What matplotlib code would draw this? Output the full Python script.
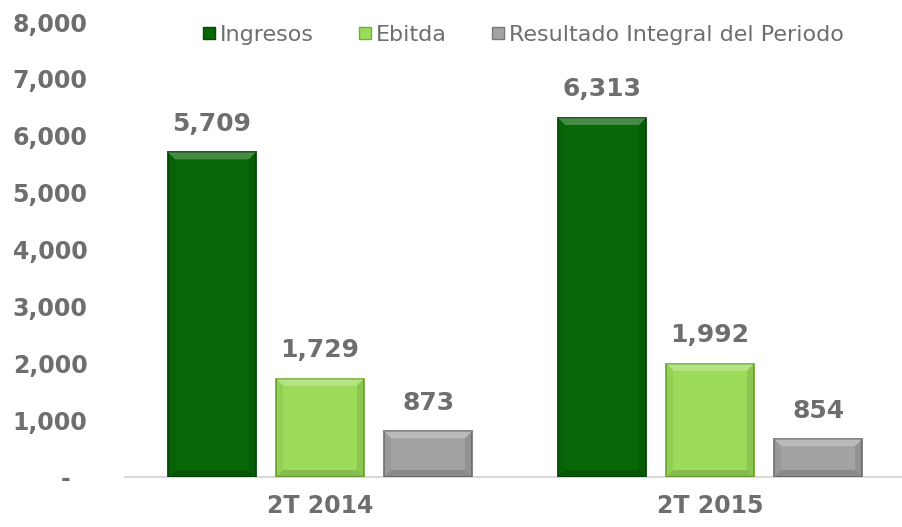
import matplotlib
matplotlib.use("Agg")
import matplotlib.pyplot as plt
import matplotlib.ticker as mticker
from matplotlib.lines import Line2D
from matplotlib.patches import Polygon
import numpy as np

# data
periods = ["2T 2014", "2T 2015"]
series = ["Ingresos", "Ebitda", "Resultado Integral del Periodo"]
ingresos = [5709, 6313]
ebitda = [1729, 1992]
# gray bars in the picture are drawn shorter than their labels
resultado = [805, 665]
resultado_labels = ["873", "854"]

colors = ["#086808", "#9cdc5a", "#a3a3a3"]
edges = ["#044a04", "#6fae33", "#777777"]
text_gray = "#6e6e6e"

fig = plt.figure(figsize=(9.02, 5.27), dpi=100)
ax = fig.add_axes([125 / 902, 50 / 527, 777 / 902, 455 / 527])
ax.set_xlim(-0.5, 1.492)
ax.set_ylim(0, 8000)

x = np.arange(len(periods))
width = 0.225
step = 0.277

# bevel size in data units (about 7 px)
bx = 7 / 390.0
by = 7 * 8000 / 455.0


def bevel(ax, b):
    x0 = b.get_x()
    x1 = x0 + b.get_width()
    h = b.get_height()
    d = min(by, h / 2)
    top = [(x0, h), (x1, h), (x1 - bx, h - d), (x0 + bx, h - d)]
    bot = [(x0, 0), (x1, 0), (x1 - bx, d), (x0 + bx, d)]
    left = [(x0, 0), (x0, h), (x0 + bx, h - d), (x0 + bx, d)]
    right = [(x1, 0), (x1, h), (x1 - bx, h - d), (x1 - bx, d)]
    ax.add_patch(Polygon(top, closed=True, fc="white", alpha=0.25, lw=0, zorder=4))
    ax.add_patch(Polygon(bot, closed=True, fc="black", alpha=0.15, lw=0, zorder=4))
    ax.add_patch(Polygon(left, closed=True, fc="black", alpha=0.06, lw=0, zorder=4))
    ax.add_patch(Polygon(right, closed=True, fc="black", alpha=0.10, lw=0, zorder=4))


labels = [[f"{v:,}" for v in ingresos], [f"{v:,}" for v in ebitda], resultado_labels]
for i, (vals, c, ec) in enumerate(zip([ingresos, ebitda, resultado], colors, edges)):
    pos = x + (i - 1) * step
    bars = ax.bar(pos, vals, width, color=c, edgecolor=ec, linewidth=1.3, zorder=3)
    for b, v, lab in zip(bars, vals, labels[i]):
        bevel(ax, b)
        ax.annotate(lab, (b.get_x() + b.get_width() / 2, v),
                    xytext=(0, 12), textcoords="offset points",
                    ha="center", va="bottom", fontsize=18, fontweight="bold",
                    color=text_gray)


# y axis, accounting style
def yfmt(v, pos):
    if v == 0:
        return "-  "
    return f"{int(v):,}"


ax.yaxis.set_major_locator(mticker.MultipleLocator(1000))
ax.yaxis.set_major_formatter(mticker.FuncFormatter(yfmt))
ax.tick_params(axis="y", length=0, pad=27, labelsize=17, labelcolor=text_gray)
for t in ax.get_yticklabels():
    t.set_fontweight("bold")

ax.set_xticks(x)
ax.set_xticklabels(periods, fontsize=17, fontweight="bold", color=text_gray)
ax.tick_params(axis="x", length=0, pad=12)

for s in ["top", "right", "left"]:
    ax.spines[s].set_visible(False)
ax.spines["bottom"].set_color("#d9d9d9")
ax.spines["bottom"].set_linewidth(1.5)

handles = [Line2D([], [], marker="s", linestyle="none", markersize=9,
                  markerfacecolor=c, markeredgecolor=ec) for c, ec in zip(colors, edges)]
leg = ax.legend(handles, series, loc="center", bbox_to_anchor=(521 / 902, 1 - 35 / 527),
                bbox_transform=fig.transFigure, ncol=3, frameon=False,
                handletextpad=0.0, columnspacing=1.8, handlelength=1.0,
                prop={"family": "DejaVu Sans", "size": 16})
for t in leg.get_texts():
    t.set_color(text_gray)

fig.savefig("out.png", dpi=100)
